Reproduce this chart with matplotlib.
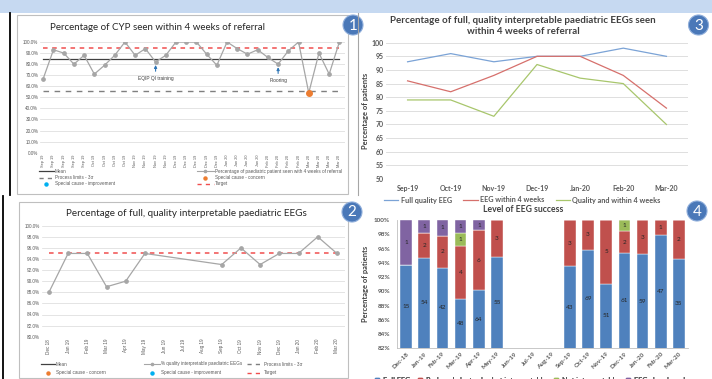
import matplotlib
matplotlib.use('Agg')
import matplotlib.pyplot as plt
from matplotlib.lines import Line2D
from matplotlib.patches import Rectangle, Circle

plt.rcParams['font.family'] = ['Lato', 'DejaVu Sans']

# ---------------- data ----------------
# Panel 1: weekly % of CYP seen within 4 weeks of referral
cyp_weeks = ['Sep 19', 'Sep 19', 'Sep 19', 'Sep 19', 'Sep 19',
             'Oct 19', 'Oct 19', 'Oct 19', 'Oct 19',
             'Nov 19', 'Nov 19', 'Nov 19', 'Nov 19',
             'Dec 19', 'Dec 19', 'Dec 19', 'Dec 19', 'Dec 19',
             'Jan 20', 'Jan 20', 'Jan 20', 'Jan 20',
             'Feb 20', 'Feb 20', 'Feb 20', 'Feb 20',
             'Mar 20', 'Mar 20', 'Mar 20', 'Mar 20']
cyp_pct = [67, 93, 90, 80, 88, 71, 79, 88, 100, 88, 94, 82, 88, 100, 100,
           100, 89, 79, 100, 94, 89, 93, 86, 80, 92, 100, 54, 90, 71, 100]
cyp_mean = 85
cyp_lower_limit = 56
cyp_target = 95
cyp_notes = {11: 'EQIP QI training', 23: 'Flooring'}

# Panel 2: monthly % of full quality interpretable EEGs
eeg_months = ['Dec 18', 'Jan 19', 'Feb 19', 'Mar 19', 'Apr 19', 'May 19',
              'Jun 19', 'Jul 19', 'Aug 19', 'Sep 19', 'Oct 19', 'Nov 19',
              'Dec 19', 'Jan 20', 'Feb 20', 'Mar 20']
eeg_quality_pct = [88, 95, 95, 89, 90, 95, None, None, None,
                   93, 96, 93, 95, 95, 98, 95]
eeg_target = 95

# Panel 3: quality and timeliness
months3 = ['Sep-19', 'Oct-19', 'Nov-19', 'Dec-19', 'Jan-20', 'Feb-20', 'Mar-20']
full_quality = [93, 96, 93, 95, 95, 98, 95]
within_4wk = [86, 82, 88, 95, 95, 88, 76]
quality_and_4wk = [79, 79, 73, 92, 87, 85, 70]

# Panel 4: level of EEG success (counts)
months4 = ['Dec-18', 'Jan-19', 'Feb-19', 'Mar-19', 'Apr-19', 'May-19',
           'Jun-19', 'Jul-19', 'Aug-19', 'Sep-19', 'Oct-19', 'Nov-19',
           'Dec-19', 'Jan-20', 'Feb-20', 'Mar-20']
full_eeg = [15, 54, 42, 48, 64, 55, 0, 0, 0, 43, 69, 51, 61, 59, 47, 35]
reduced_eeg = [0, 2, 2, 4, 6, 3, 0, 0, 0, 3, 3, 5, 2, 3, 1, 2]
not_interp = [0, 0, 0, 1, 0, 0, 0, 0, 0, 0, 0, 0, 1, 0, 0, 0]
abandoned = [1, 1, 1, 1, 1, 0, 0, 0, 0, 0, 0, 0, 0, 0, 0, 0]

# ---------------- figure ----------------
W, H = 712, 379
fig = plt.figure(figsize=(W / 100, H / 100), dpi=100)
fig.patch.set_facecolor('white')


def px_axes(x0, y0, x1, y1):
    return fig.add_axes([x0 / W, 1 - y1 / H, (x1 - x0) / W, (y1 - y0) / H])


GREY_TXT = '#595959'
DARK_TXT = '#404040'
GRID = '#D9D9D9'
SMALL = 'Liberation Sans'
BLUE, RED, GREEN, PURPLE = '#4F81BD', '#C0504D', '#9BBB59', '#8064A2'

# ---------- Panel 1 ----------
ax1 = px_axes(40, 42, 345, 152.7)
x1 = list(range(len(cyp_pct)))
ax1.set_xlim(-0.32, 29.55)
ax1.set_ylim(0, 100)
ax1.set_yticks(range(0, 101, 10))
ax1.set_yticklabels([f'{v:.1f}%' for v in range(0, 101, 10)],
                    fontsize=3.3, color=GREY_TXT, family=SMALL)
ax1.set_xticks(x1)
ax1.set_xticklabels(cyp_weeks, rotation=90, fontsize=2.8, color=GREY_TXT,
                    family=SMALL, va='top')
ax1.tick_params(length=0, pad=1.3)
ax1.grid(axis='y', color=GRID, lw=0.5)
ax1.set_axisbelow(True)
for s in ax1.spines.values():
    s.set_visible(False)
ax1.plot([0, len(cyp_pct) - 1], [cyp_target] * 2, color='#F04E4E', lw=1.1,
         ls=(0, (3, 3)))
ax1.plot([0, len(cyp_pct) - 1], [cyp_mean] * 2, color=DARK_TXT, lw=0.9)
ax1.plot([0, len(cyp_pct) - 1], [cyp_lower_limit] * 2, color='#7F7F7F',
         lw=1.0, ls=(0, (4, 4)))
ax1.plot(x1, cyp_pct, color='#A6A6A6', lw=0.9, marker='o', ms=2.4,
         mfc='#A6A6A6', mec='#A6A6A6')
concern = [i for i, v in enumerate(cyp_pct) if v < cyp_lower_limit]
ax1.plot(concern, [cyp_pct[i] for i in concern], 'o', color='#ED7D31', ms=4)
for i, note in cyp_notes.items():
    ax1.annotate(note, xy=(i, cyp_pct[i]), xytext=(0, -10.2),
                 textcoords='offset points', ha='center', va='top',
                 fontsize=3.5, family=SMALL, color=DARK_TXT,
                 arrowprops=dict(arrowstyle='-|>', color='#2E75B6', lw=0.8,
                                 mutation_scale=4, shrinkA=1.5, shrinkB=2.2))

# ---------- Panel 2 ----------
ax2 = px_axes(42, 225.7, 345, 336.7)
x2 = [i for i, v in enumerate(eeg_quality_pct) if v is not None]
y2 = [v for v in eeg_quality_pct if v is not None]
ax2.set_xlim(-0.36, 15.42)
ax2.set_ylim(80, 100)
ax2.set_yticks(range(80, 101, 2))
ax2.set_yticklabels([f'{v:.1f}%' for v in range(80, 101, 2)],
                    fontsize=3.3, color=GREY_TXT, family=SMALL)
ax2.set_xticks(range(len(eeg_months)))
ax2.set_xticklabels(eeg_months, rotation=90, fontsize=3.3, color=GREY_TXT,
                    family=SMALL, va='top')
ax2.tick_params(length=0, pad=1.5)
ax2.grid(axis='y', color=GRID, lw=0.5)
ax2.set_axisbelow(True)
for s in ax2.spines.values():
    s.set_visible(False)
ax2.plot([0, len(eeg_months) - 1], [eeg_target] * 2, color='#F04E4E', lw=1.1,
         ls=(0, (3, 3)))
ax2.plot(x2, y2, color='#A6A6A6', lw=0.9, marker='o', ms=2.4,
         mfc='#A6A6A6', mec='#A6A6A6')

# ---------- Panel 3 ----------
ax3 = px_axes(386, 42.7, 688, 179)
x3 = range(len(months3))
ax3.set_xlim(-0.5, len(months3) - 0.5)
ax3.set_ylim(50, 100)
ax3.set_yticks(range(50, 101, 5))
ax3.set_xticks(list(x3))
ax3.set_xticklabels(months3)
for lab in ax3.get_xticklabels() + ax3.get_yticklabels():
    lab.set_fontsize(5)
    lab.set_fontweight('bold')
    lab.set_color(GREY_TXT)
ax3.tick_params(length=0, pad=1.8)
ax3.tick_params(axis='x', pad=4)
ax3.grid(axis='y', color=GRID, lw=0.6)
ax3.set_axisbelow(True)
for s in ax3.spines.values():
    s.set_visible(False)
l_full, = ax3.plot(x3, full_quality, color='#7BA3D6', lw=0.9)
l_4wk, = ax3.plot(x3, within_4wk, color='#D6706C', lw=0.9)
l_q4, = ax3.plot(x3, quality_and_4wk, color='#A8C66C', lw=0.9)

# ---------- Panel 4 ----------
ax4 = px_axes(397, 220, 688, 348.3)
x4 = list(range(len(months4)))
totals = [a + b + c + d for a, b, c, d in
          zip(full_eeg, reduced_eeg, not_interp, abandoned)]
series4 = [(full_eeg, BLUE), (reduced_eeg, RED),
           (not_interp, GREEN), (abandoned, PURPLE)]
bottom = [0.0] * len(months4)
ymin4 = 82
for counts, col in series4:
    pct = [c / t * 100 if t else 0 for c, t in zip(counts, totals)]
    ax4.bar(x4, pct, bottom=bottom, width=0.64, color=col, edgecolor='white',
            linewidth=0.3)
    for i, (c, p, b) in enumerate(zip(counts, pct, bottom)):
        if c:
            mid = (max(b, ymin4) + b + p) / 2
            ax4.text(i, mid, str(c), ha='center', va='center', fontsize=4.6,
                     color='#262626')
    bottom = [b + p for b, p in zip(bottom, pct)]
ax4.set_xlim(-0.5, len(months4) - 0.5)
ax4.set_ylim(ymin4, 100)
ax4.set_yticks(range(82, 101, 2))
ax4.set_yticklabels([f'{v}%' for v in range(82, 101, 2)])
ax4.set_xticks(x4)
ax4.set_xticklabels(months4, rotation=45, ha='right', rotation_mode='anchor')
for lab in ax4.get_xticklabels() + ax4.get_yticklabels():
    lab.set_fontsize(4.6)
    lab.set_fontweight('bold')
    lab.set_color(GREY_TXT)
ax4.tick_params(length=0, pad=5)
ax4.tick_params(axis='x', pad=2)
for side in ('top', 'right'):
    ax4.spines[side].set_visible(False)
for side in ('left', 'bottom'):
    ax4.spines[side].set_color('#BFBFBF')
    ax4.spines[side].set_linewidth(0.6)

# ---------- decoration overlay (pixel coordinates) ----------
ov = fig.add_axes([0, 0, 1, 1], zorder=10)
ov.set_xlim(0, W)
ov.set_ylim(H, 0)
ov.axis('off')
ov.patch.set_alpha(0)

ov.add_patch(Rectangle((0, 0), W, 12.5, color='#C6D9F1', lw=0))
ov.plot([9.5, 9.5], [13, 195], color='black', lw=1.3)
ov.plot([3, 3], [196, H], color='black', lw=1.3)
ov.plot([357.5, 357.5], [13, 195], color='#A6A6A6', lw=0.8)
ov.add_patch(Rectangle((17, 15), 331, 179, fill=False, ec='#BFBFBF', lw=0.8))
ov.add_patch(Rectangle((19, 202), 329, 175.5, fill=False, ec='#BFBFBF', lw=0.8))

for (cx, cy), num in zip([(353, 25), (698.5, 25), (352, 212), (697, 211)],
                         ['1', '3', '2', '4']):
    ov.add_patch(Circle((cx, cy), 10, fc='#4A78B8', ec='#8FAEDB', lw=0.8))
    ov.text(cx, cy + 0.5, num, color='white', fontsize=11, ha='center',
            va='center')

# titles
ov.text(157, 28, 'Percentage of CYP seen within 4 weeks of referral',
        fontsize=7.0, color='#262626', ha='center', va='center')
ov.text(186, 214, 'Percentage of full, quality interpretable paediatric EEGs',
        fontsize=7.1, color='#262626', ha='center', va='center')
ov.text(523, 26,
        'Percentage of full, quality interpretable paediatric EEGs seen\n'
        'within 4 weeks of referral',
        fontsize=7.0, fontweight='bold', color=DARK_TXT, ha='center',
        va='center', linespacing=1.2)
ov.text(523, 210, 'Level of EEG success', fontsize=6.2, fontweight='bold',
        color=DARK_TXT, ha='center', va='center')
ov.text(365.5, 111, 'Percentage of patients', fontsize=5.4, fontweight='bold',
        color=DARK_TXT, rotation=90, ha='center', va='center')
ov.text(365.5, 284, 'Percentage of patients', fontsize=5.4, fontweight='bold',
        color=DARK_TXT, rotation=90, ha='center', va='center')


def px_legend(handles, labels, x, y, fs, family=None, bold=False, ncol=1,
              **kw):
    prop = {'size': fs}
    if family:
        prop['family'] = family
    if bold:
        prop['weight'] = 'bold'
    leg = ov.legend(handles, labels, loc='upper left', bbox_to_anchor=(x, y),
                    bbox_transform=ov.transData, frameon=False, prop=prop,
                    ncol=ncol, borderpad=0, borderaxespad=0, **kw)
    for t in leg.get_texts():
        t.set_color(GREY_TXT)
    ov.add_artist(leg)
    return leg


h_mean = Line2D([], [], color=DARK_TXT, lw=0.9)
h_lim = Line2D([], [], color='#7F7F7F', lw=1.0, ls=(0, (3, 3)))
h_imp = Line2D([], [], color='#00B0F0', marker='o', ls='none', ms=2.2)
h_con = Line2D([], [], color='#ED7D31', marker='o', ls='none', ms=2.2)
h_tgt = Line2D([], [], color='#F04E4E', lw=1.0, ls=(0, (3, 3)))
h_ser = Line2D([], [], color='#A6A6A6', lw=0.8, marker='o', ms=1.6)

px_legend([h_mean, h_lim, h_imp],
          ['Mean', 'Process limits - 3\u03c3', 'Special cause - improvement'],
          39, 169.0, 3.3, family=SMALL, handlelength=3.2, handletextpad=0.3,
          labelspacing=0.25)
px_legend([h_ser, h_con, h_tgt],
          ['Percentage of paediatric patient seen with 4 weeks of referral',
           'Special cause - concern', 'Target'],
          197, 169.0, 3.3, family=SMALL, handlelength=3.6, handletextpad=0.3,
          labelspacing=0.25)

px_legend([h_mean, h_con], ['Mean', 'Special cause - concern'],
          41, 361.5, 3.3, family=SMALL, handlelength=3.0, handletextpad=0.3,
          labelspacing=0.85)
px_legend([h_ser, h_imp], ['% quality interpretable paediatric EEGs',
                           'Special cause - improvement'],
          144, 361.5, 3.3, family=SMALL, handlelength=3.4, handletextpad=0.3,
          labelspacing=0.85)
px_legend([h_lim, h_tgt], ['Process limits - 3\u03c3', 'Target'],
          247, 361.5, 3.3, family=SMALL, handlelength=3.4, handletextpad=0.3,
          labelspacing=0.85)

px_legend([l_full, l_4wk, l_q4],
          ['Full quality EEG', 'EEG within 4 weeks', 'Quality and within 4 weeks'],
          384, 196.5, 5.2, bold=True, ncol=3, handlelength=2.0,
          handletextpad=0.3, columnspacing=1.6)

sq = [Line2D([], [], color=c, marker='s', ls='none', ms=2.6)
      for c in (BLUE, RED, GREEN, PURPLE)]
px_legend(sq, ['Full EEG', 'Reduced electrodes but interpretable',
               'Not interpretable', 'EEG abandoned'],
          374, 377.0, 5.2, bold=True, ncol=4, handlelength=0.8,
          handletextpad=0.4, columnspacing=1.0)

fig.savefig('out.png', dpi=100)
